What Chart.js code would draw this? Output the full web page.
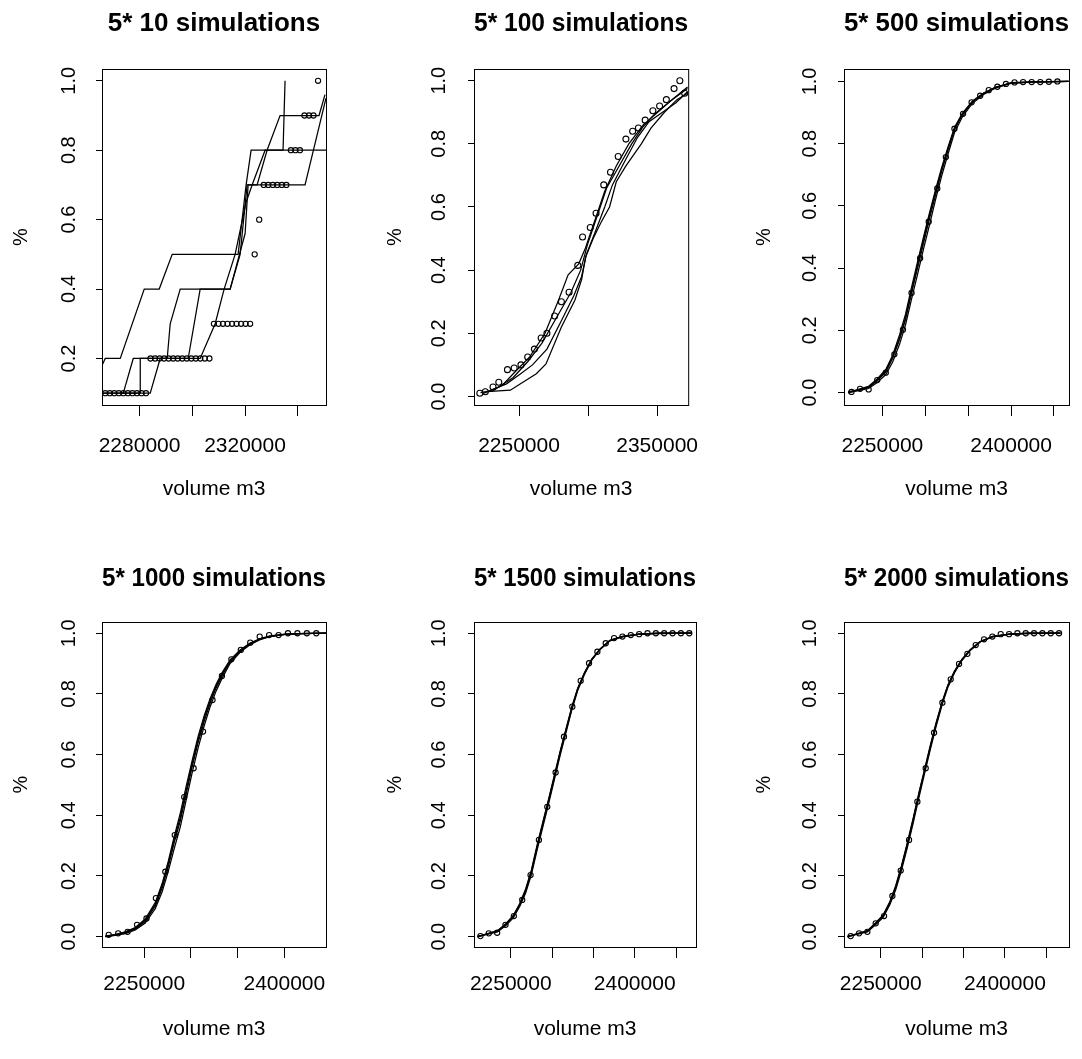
<!DOCTYPE html>
<html>
<head>
<meta charset="utf-8">
<script src="https://cdn.jsdelivr.net/npm/chart.js@4.4.1/dist/chart.umd.min.js"></script>
<style>
  body { margin: 0; background: #fff; }
  #wrap { position: relative; width: 1082px; height: 1059px; }
  canvas { position: absolute; }
</style>
</head>
<body>
<div id="wrap">
  <canvas id="c1"></canvas><canvas id="c2"></canvas><canvas id="c3"></canvas>
  <canvas id="c4"></canvas><canvas id="c5"></canvas><canvas id="c6"></canvas>
</div>
<script>
// ---- tick values ----
const xTicks1 = [2280000, 2300000, 2320000, 2340000];
const xLabels1 = [2280000, 2320000];
const xTicks2 = [2250000, 2300000, 2350000];
const xLabels2 = [2250000, 2350000];
const xTicks4 = [2250000, 2300000, 2350000, 2400000];
const xTicksWide = [2250000, 2300000, 2350000, 2400000, 2450000];
const xLabelsWide = [2250000, 2400000];
const yTicks1 = [0.2, 0.4, 0.6, 0.8, 1.0];
const yTicks = [0, 0.2, 0.4, 0.6, 0.8, 1.0];

// ---- 5* 10 simulations ----
const p1CircX = [2267000, 2268720, 2270430, 2272150, 2273870, 2275590, 2277300, 2279020, 2280740, 2282450,
  2284170, 2285890, 2287600, 2289320, 2291040, 2292760, 2294470, 2296190, 2297910, 2299620,
  2301340, 2303060, 2304770, 2306490, 2308210, 2309930, 2311640, 2313360, 2315080, 2316790,
  2318510, 2320230, 2321940, 2323660, 2325380, 2327100, 2328810, 2330530, 2332250, 2333960,
  2335680, 2337400, 2339110, 2340830, 2342550, 2344270, 2345980, 2347700];
const p1CircY = [0.1, 0.1, 0.1, 0.1, 0.1, 0.1, 0.1, 0.1, 0.1, 0.1,
  0.2, 0.2, 0.2, 0.2, 0.2, 0.2, 0.2, 0.2, 0.2, 0.2, 0.2, 0.2, 0.2, 0.2,
  0.3, 0.3, 0.3, 0.3, 0.3, 0.3, 0.3, 0.3, 0.3, 0.5, 0.6,
  0.7, 0.7, 0.7, 0.7, 0.7, 0.7, 0.8, 0.8, 0.8, 0.9, 0.9, 0.9, 1.0];
const p1LineA = [[2265760, 0.18], [2267000, 0.2], [2272690, 0.2], [2281780, 0.4], [2287460, 0.4], [2292390, 0.5],
  [2317390, 0.5], [2320420, 0.7], [2322310, 0.8], [2350720, 0.8]];
const p1LineB = [[2265870, 0.1], [2273830, 0.1], [2277610, 0.2], [2290490, 0.2], [2291630, 0.3], [2295420, 0.4],
  [2314360, 0.4], [2320040, 0.56], [2321180, 0.7], [2324590, 0.7], [2328370, 0.8], [2333300, 0.9],
  [2348070, 0.9], [2350340, 0.96]];
const p1LineC = [[2265870, 0.1], [2280270, 0.1], [2280270, 0.2], [2298450, 0.2], [2302990, 0.4], [2314360, 0.4],
  [2318150, 0.5], [2320800, 0.7], [2342770, 0.7], [2350720, 0.95]];
const p1LineD = [[2272690, 0.1], [2284050, 0.1], [2287840, 0.2], [2302990, 0.2], [2308680, 0.3], [2312080, 0.4],
  [2316250, 0.5], [2320420, 0.65], [2322690, 0.7], [2327620, 0.8], [2334430, 0.8], [2334810, 0.9], [2335190, 1.0]];

// ---- 5* 100 simulations ----
const p2CircX = [2221620, 2225590, 2231170, 2235360, 2241630, 2246510, 2251390, 2256280, 2261160, 2266040,
  2270220, 2275800, 2280680, 2286260, 2292540, 2296030, 2301600, 2305790, 2311370, 2316250,
  2321830, 2327410, 2332290, 2336470, 2341350, 2346930, 2351810, 2356700, 2362270, 2366460, 2369940];
const p2CircY = [0.01, 0.015, 0.03, 0.045, 0.085, 0.09, 0.1, 0.125, 0.15, 0.185,
  0.2, 0.255, 0.3, 0.33, 0.415, 0.505, 0.535, 0.58, 0.67, 0.71,
  0.76, 0.815, 0.84, 0.85, 0.875, 0.905, 0.92, 0.94, 0.975, 1.0, 0.96];
const p2LineA = [[2222110, 0.012], [2231870, 0.02], [2238840, 0.04], [2245820, 0.072], [2257670, 0.125], [2268830, 0.2],
  [2278590, 0.305], [2285560, 0.385], [2293240, 0.42], [2298120, 0.47], [2305090, 0.56], [2312060, 0.65],
  [2320430, 0.73], [2329500, 0.8], [2339960, 0.86], [2350420, 0.9], [2360880, 0.94], [2372040, 0.975]];
const p2LineB = [[2226990, 0.015], [2243720, 0.02], [2252790, 0.045], [2262550, 0.072], [2269530, 0.103], [2280680, 0.22],
  [2290450, 0.305], [2295330, 0.37], [2298120, 0.44], [2303700, 0.5], [2309270, 0.55], [2315550, 0.6],
  [2320430, 0.68], [2327410, 0.73], [2338560, 0.8], [2345540, 0.85], [2355300, 0.9], [2364370, 0.94], [2372040, 0.96]];
const p2LineC = [[2224200, 0.01], [2235360, 0.03], [2245820, 0.06], [2256280, 0.11], [2266740, 0.17], [2277200, 0.25],
  [2287660, 0.33], [2294630, 0.4], [2299510, 0.48], [2306490, 0.57], [2313460, 0.66], [2322520, 0.73],
  [2331590, 0.8], [2339960, 0.855], [2348330, 0.895], [2359480, 0.935], [2372040, 0.98]];
const p2LineD = [[2229780, 0.02], [2240930, 0.04], [2250700, 0.07], [2259760, 0.1], [2270220, 0.15], [2280680, 0.24],
  [2289750, 0.32], [2295330, 0.38], [2298810, 0.45], [2305090, 0.52], [2312060, 0.6], [2317640, 0.67],
  [2326010, 0.74], [2335770, 0.82], [2344140, 0.87], [2353900, 0.9], [2363670, 0.93], [2372040, 0.965]];

// ---- 5* 500 simulations ----
const p3CircX = [2214000, 2224000, 2234000, 2244000, 2254000, 2264000, 2274000, 2284000, 2294000, 2304000,
  2314000, 2324000, 2334000, 2344000, 2354000, 2364000, 2374000, 2384000, 2394000, 2404000,
  2414000, 2424000, 2434000, 2444000, 2454000];
const p3CircY = [0.002, 0.012, 0.01, 0.04, 0.064, 0.123, 0.202, 0.32, 0.432, 0.549, 0.656, 0.757, 0.848, 0.896,
  0.933, 0.954, 0.972, 0.983, 0.992, 0.997, 0.998, 0.998, 0.998, 0.999, 1.0];
const p3LineX = [2210000, 2222000, 2234000, 2244000, 2254000, 2262000, 2270000, 2277000, 2284000, 2291000, 2298000,
  2305000, 2312000, 2319000, 2326000, 2334000, 2343000, 2355000, 2368000, 2382000, 2400000, 2425000, 2467000];
const p3LineA = [0.0, 0.008, 0.016, 0.038, 0.066, 0.11, 0.17, 0.235, 0.32, 0.40, 0.48, 0.56, 0.635, 0.71, 0.775, 0.845, 0.892, 0.934, 0.961, 0.981, 0.995, 0.999, 1.0];
const p3LineB = [0.0, 0.006, 0.013, 0.032, 0.058, 0.098, 0.155, 0.218, 0.30, 0.38, 0.462, 0.54, 0.62, 0.695, 0.762, 0.835, 0.885, 0.93, 0.958, 0.979, 0.994, 0.998, 1.0];
const p3LineC = [0.0, 0.01, 0.02, 0.044, 0.074, 0.12, 0.185, 0.252, 0.338, 0.42, 0.5, 0.578, 0.652, 0.722, 0.785, 0.852, 0.897, 0.937, 0.963, 0.982, 0.995, 0.999, 1.0];
const p3LineD = [0.002, 0.009, 0.018, 0.04, 0.07, 0.115, 0.175, 0.24, 0.325, 0.41, 0.49, 0.57, 0.645, 0.715, 0.78, 0.848, 0.894, 0.935, 0.962, 0.98, 0.996, 0.999, 1.0];

// ---- 5* 1000 simulations ----
const p4CircX = [2212000, 2222100, 2232200, 2242300, 2252400, 2262500, 2272600, 2282700, 2292800, 2302900,
  2313000, 2323100, 2333200, 2343300, 2353400, 2363500, 2373600, 2383700, 2393800, 2403900,
  2414000, 2424100, 2434200];
const p4CircY = [0.006, 0.011, 0.016, 0.039, 0.06, 0.127, 0.214, 0.335, 0.46, 0.555, 0.676, 0.78, 0.859, 0.914,
  0.945, 0.969, 0.989, 0.994, 0.994, 1.0, 1.0, 1.0, 1.0];
const p4LineX = [2208300, 2219000, 2229700, 2240400, 2251100, 2261800, 2269200, 2275700, 2282100, 2288500, 2294900,
  2301300, 2307700, 2314200, 2320600, 2327000, 2333400, 2341900, 2352600, 2363300, 2374000, 2384700, 2400700, 2416800, 2444600];
const p4LineA = [0.0, 0.005, 0.012, 0.025, 0.05, 0.1, 0.16, 0.23, 0.31, 0.38, 0.47, 0.56, 0.64, 0.71, 0.77, 0.82, 0.86, 0.905, 0.94, 0.965, 0.98, 0.99, 0.996, 0.999, 1.0];
const p4LineB = [0.002, 0.008, 0.016, 0.03, 0.058, 0.112, 0.175, 0.248, 0.33, 0.405, 0.495, 0.58, 0.66, 0.728, 0.785, 0.832, 0.87, 0.912, 0.945, 0.968, 0.982, 0.991, 0.997, 0.999, 1.0];
const p4LineC = [0.0, 0.004, 0.01, 0.022, 0.045, 0.092, 0.148, 0.215, 0.29, 0.36, 0.45, 0.54, 0.622, 0.695, 0.758, 0.81, 0.852, 0.9, 0.937, 0.962, 0.979, 0.989, 0.996, 0.999, 1.0];
const p4LineD = [0.001, 0.006, 0.014, 0.028, 0.054, 0.106, 0.168, 0.24, 0.32, 0.392, 0.482, 0.57, 0.65, 0.72, 0.778, 0.826, 0.865, 0.908, 0.942, 0.966, 0.981, 0.99, 0.996, 0.999, 1.0];

// ---- 5* 1500 simulations ----
const p5CircX = [2213300, 2223410, 2233520, 2243630, 2253740, 2263850, 2273960, 2284070, 2294180, 2304290,
  2314400, 2324510, 2334620, 2344730, 2354840, 2364950, 2375060, 2385170, 2395280, 2405390,
  2415500, 2425610, 2435720, 2445830, 2455940, 2466050];
const p5CircY = [0.002, 0.011, 0.013, 0.039, 0.068, 0.121, 0.203, 0.319, 0.428, 0.541, 0.659, 0.758, 0.843, 0.901,
  0.939, 0.967, 0.984, 0.989, 0.994, 0.997, 1.0, 1.0, 1.0, 1.0, 1.0, 1.0];
const p5LineX = [2210000, 2222000, 2234000, 2244000, 2253000, 2261000, 2268000, 2275000, 2282000, 2289000, 2296000,
  2303000, 2310000, 2317000, 2324000, 2331000, 2339000, 2348000, 2358000, 2370000, 2385000, 2405000, 2430000, 2469000];
const p5LineA = [0.0, 0.009, 0.018, 0.04, 0.066, 0.105, 0.15, 0.212, 0.295, 0.372, 0.448, 0.527, 0.607, 0.68, 0.753, 0.815, 0.866, 0.913, 0.947, 0.976, 0.989, 0.997, 1.0, 1.0];
const p5LineB = [0.001, 0.01, 0.02, 0.043, 0.07, 0.11, 0.157, 0.22, 0.303, 0.38, 0.456, 0.535, 0.614, 0.686, 0.758, 0.819, 0.869, 0.915, 0.948, 0.977, 0.99, 0.997, 1.0, 1.0];
const p5LineC = [0.0, 0.008, 0.016, 0.037, 0.062, 0.1, 0.144, 0.205, 0.287, 0.364, 0.44, 0.52, 0.6, 0.674, 0.748, 0.811, 0.863, 0.911, 0.946, 0.975, 0.988, 0.996, 0.999, 1.0];
const p5LineD = [0.0, 0.009, 0.019, 0.041, 0.068, 0.107, 0.153, 0.216, 0.299, 0.376, 0.452, 0.531, 0.61, 0.683, 0.756, 0.817, 0.867, 0.914, 0.947, 0.976, 0.989, 0.997, 1.0, 1.0];

// ---- 5* 2000 simulations ----
const p6CircX = [2213800, 2223860, 2233920, 2243980, 2254040, 2264100, 2274160, 2284220, 2294280, 2304340,
  2314400, 2324460, 2334520, 2344580, 2354640, 2364700, 2374760, 2384820, 2394880, 2404940,
  2415000, 2425060, 2435120, 2445180, 2455240, 2465300];
const p6CircY = [0.002, 0.011, 0.016, 0.044, 0.068, 0.134, 0.218, 0.319, 0.445, 0.555, 0.672, 0.771, 0.848, 0.899,
  0.932, 0.961, 0.98, 0.989, 0.997, 0.997, 1.0, 1.0, 1.0, 1.0, 1.0, 1.0];
const p6LineX = [2210000, 2222000, 2234000, 2244000, 2253000, 2261000, 2268000, 2275000, 2282000, 2289000, 2296000,
  2303000, 2310000, 2317000, 2324000, 2331000, 2339000, 2348000, 2358000, 2370000, 2385000, 2405000, 2430000, 2467000];
const p6LineA = [0.0, 0.009, 0.018, 0.043, 0.068, 0.11, 0.16, 0.225, 0.3, 0.38, 0.465, 0.545, 0.625, 0.7, 0.768, 0.825, 0.872, 0.912, 0.944, 0.972, 0.989, 0.997, 1.0, 1.0];
const p6LineB = [0.001, 0.01, 0.02, 0.046, 0.072, 0.115, 0.167, 0.233, 0.308, 0.388, 0.473, 0.552, 0.632, 0.706, 0.773, 0.829, 0.875, 0.914, 0.946, 0.973, 0.99, 0.997, 1.0, 1.0];
const p6LineC = [0.0, 0.008, 0.016, 0.04, 0.064, 0.105, 0.154, 0.218, 0.292, 0.372, 0.457, 0.538, 0.618, 0.694, 0.763, 0.821, 0.869, 0.91, 0.943, 0.971, 0.988, 0.996, 0.999, 1.0];
const p6LineD = [0.0, 0.009, 0.019, 0.044, 0.07, 0.112, 0.163, 0.229, 0.304, 0.384, 0.469, 0.549, 0.628, 0.703, 0.77, 0.827, 0.873, 0.913, 0.945, 0.972, 0.989, 0.997, 1.0, 1.0];

// ---- helpers ----
Chart.defaults.font.family = '"Liberation Sans", Arial, Helvetica, sans-serif';
Chart.defaults.color = '#000';

const zip = (xs, ys) => xs.map((x, i) => ({ x: x, y: ys[i] }));
const fromPairs = arr => arr.map(p => ({ x: p[0], y: p[1] }));

function lineSet(points) {
  return { data: points, showLine: true, borderColor: '#000', borderWidth: 1.25, pointRadius: 0, tension: 0, clip: 0 };
}
function circleSet(points, r) {
  return { data: points, showLine: false, pointRadius: r, pointBorderWidth: 1.1,
           pointBorderColor: '#000', pointBackgroundColor: 'rgba(0,0,0,0)', clip: 0 };
}

// plot box outline
const frame = {
  id: 'frame',
  afterDraw(chart) {
    const a = chart.chartArea, ctx = chart.ctx;
    ctx.save();
    ctx.strokeStyle = '#000';
    ctx.lineWidth = 1;
    ctx.strokeRect(a.left + 0.5, a.top + 0.5, a.right - a.left, a.bottom - a.top);
    ctx.restore();
  }
};

function makePanel(L, d) {
  const cv = document.getElementById(L.id);
  cv.width = L.w; cv.height = L.h;
  cv.style.left = L.left + 'px'; cv.style.top = L.top + 'px';
  const [bl, bt, br, bb] = L.box;
  const titleLH = 26 * 1.2;
  new Chart(cv, {
    type: 'scatter',
    data: { datasets: d.sets },
    options: {
      responsive: false, animation: false, devicePixelRatio: 1, events: [],
      layout: { padding: { left: 0, top: 0, bottom: 0, right: L.left + L.w - br } },
      plugins: {
        legend: { display: false }, tooltip: { enabled: false },
        title: { display: true, text: d.title, fullSize: false, color: '#000',
                 font: { size: 26, weight: 'bold' },
                 padding: { top: L.titleTop, bottom: (bt - L.top) - L.titleTop - titleLH } }
      },
      scales: {
        x: {
          type: 'linear', min: d.xr[0], max: d.xr[1], bounds: 'data',
          afterFit: s => { s.height = L.top + L.h - bb; },
          afterBuildTicks: s => { s.ticks = d.xt.map(v => ({ value: v })); },
          grid: { display: true, drawOnChartArea: false, drawTicks: true, tickLength: 11, color: '#000', lineWidth: 1 },
          border: { display: false },
          ticks: { autoSkip: false, maxRotation: 0, minRotation: 0, padding: L.xLab, font: { size: 21 }, color: '#000',
                   callback: v => d.xl.includes(v) ? String(v) : '' },
          title: { display: true, text: 'volume m3', font: { size: 21 }, color: '#000', padding: { top: 0, bottom: L.xTitle } }
        },
        y: {
          type: 'linear', min: d.yr[0], max: d.yr[1], bounds: 'data',
          afterFit: s => { s.width = bl - L.left; },
          afterBuildTicks: s => { s.ticks = d.yt.map(v => ({ value: v })); },
          grid: { display: true, drawOnChartArea: false, drawTicks: true, tickLength: 6, color: '#000', lineWidth: 1 },
          border: { display: false },
          ticks: { autoSkip: false, minRotation: 90, maxRotation: 90, crossAlign: 'center', padding: L.yLab,
                   font: { size: 20 }, color: '#000', callback: v => v.toFixed(1) },
          title: { display: true, text: '%', font: { size: 20 }, color: '#000', padding: { top: L.yTitle, bottom: 0 } }
        }
      }
    },
    plugins: [frame]
  });
}

// ---- layout of the six panels ----
const topRow = { top: 0, h: 520, titleTop: 7.9, xLab: 17.4, xTitle: 18.4 };
const botRow = { top: 520, h: 539, titleTop: 43.7, xLab: 13.6, xTitle: 17.4 };

makePanel(Object.assign({ id: 'c1', left: 0, w: 360, box: [102, 69, 326, 405], yLab: 12.9, yTitle: 9.8 }, topRow), {
  title: '5* 10 simulations', xr: [2265760, 2350720], yr: [0.066, 1.034], xt: xTicks1, xl: xLabels1, yt: yTicks1,
  sets: [lineSet(fromPairs(p1LineA)), lineSet(fromPairs(p1LineB)), lineSet(fromPairs(p1LineC)), lineSet(fromPairs(p1LineD)),
         circleSet(zip(p1CircX, p1CircY), 2.6)]
});
makePanel(Object.assign({ id: 'c2', left: 360, w: 360, box: [474, 69, 697, 405], yLab: 14.9, yTitle: 23.2 }, topRow), {
  title: '5* 100 simulations', xr: [2217400, 2372500], yr: [-0.027, 1.037], xt: xTicks2, xl: xLabels2, yt: yTicks,
  sets: [lineSet(fromPairs(p2LineA)), lineSet(fromPairs(p2LineB)), lineSet(fromPairs(p2LineC)), lineSet(fromPairs(p2LineD)),
         circleSet(zip(p2CircX, p2CircY), 3)]
});
makePanel(Object.assign({ id: 'c3', left: 720, w: 362, box: [844, 69, 1069, 405], yLab: 14.1, yTitle: 32.3 }, topRow), {
  title: '5* 500 simulations', xr: [2205300, 2467500], yr: [-0.04, 1.04], xt: xTicksWide, xl: xLabelsWide, yt: yTicks,
  sets: [lineSet(zip(p3LineX, p3LineA)), lineSet(zip(p3LineX, p3LineB)), lineSet(zip(p3LineX, p3LineC)), lineSet(zip(p3LineX, p3LineD)),
         circleSet(zip(p3CircX, p3CircY), 2.6)]
});
makePanel(Object.assign({ id: 'c4', left: 0, w: 360, box: [102, 622, 326, 947], yLab: 12.9, yTitle: 9.8 }, botRow), {
  title: '5* 1000 simulations', xr: [2204800, 2444600], yr: [-0.034, 1.037], xt: xTicks4, xl: xLabelsWide, yt: yTicks,
  sets: [lineSet(zip(p4LineX, p4LineA)), lineSet(zip(p4LineX, p4LineB)), lineSet(zip(p4LineX, p4LineC)), lineSet(zip(p4LineX, p4LineD)),
         circleSet(zip(p4CircX, p4CircY), 2.6)]
});
makePanel(Object.assign({ id: 'c5', left: 360, w: 360, box: [474, 622, 696, 947], yLab: 14.9, yTitle: 23.2 }, botRow), {
  title: '5* 1500 simulations', xr: [2205500, 2474200], yr: [-0.034, 1.037], xt: xTicksWide, xl: xLabelsWide, yt: yTicks,
  sets: [lineSet(zip(p5LineX, p5LineA)), lineSet(zip(p5LineX, p5LineB)), lineSet(zip(p5LineX, p5LineC)), lineSet(zip(p5LineX, p5LineD)),
         circleSet(zip(p5CircX, p5CircY), 2.6)]
});
makePanel(Object.assign({ id: 'c6', left: 720, w: 362, box: [844, 622, 1069, 947], yLab: 14.1, yTitle: 32.3 }, botRow), {
  title: '5* 2000 simulations', xr: [2205700, 2477300], yr: [-0.034, 1.037], xt: xTicksWide, xl: xLabelsWide, yt: yTicks,
  sets: [lineSet(zip(p6LineX, p6LineA)), lineSet(zip(p6LineX, p6LineB)), lineSet(zip(p6LineX, p6LineC)), lineSet(zip(p6LineX, p6LineD)),
         circleSet(zip(p6CircX, p6CircY), 2.6)]
});
</script>
</body>
</html>
